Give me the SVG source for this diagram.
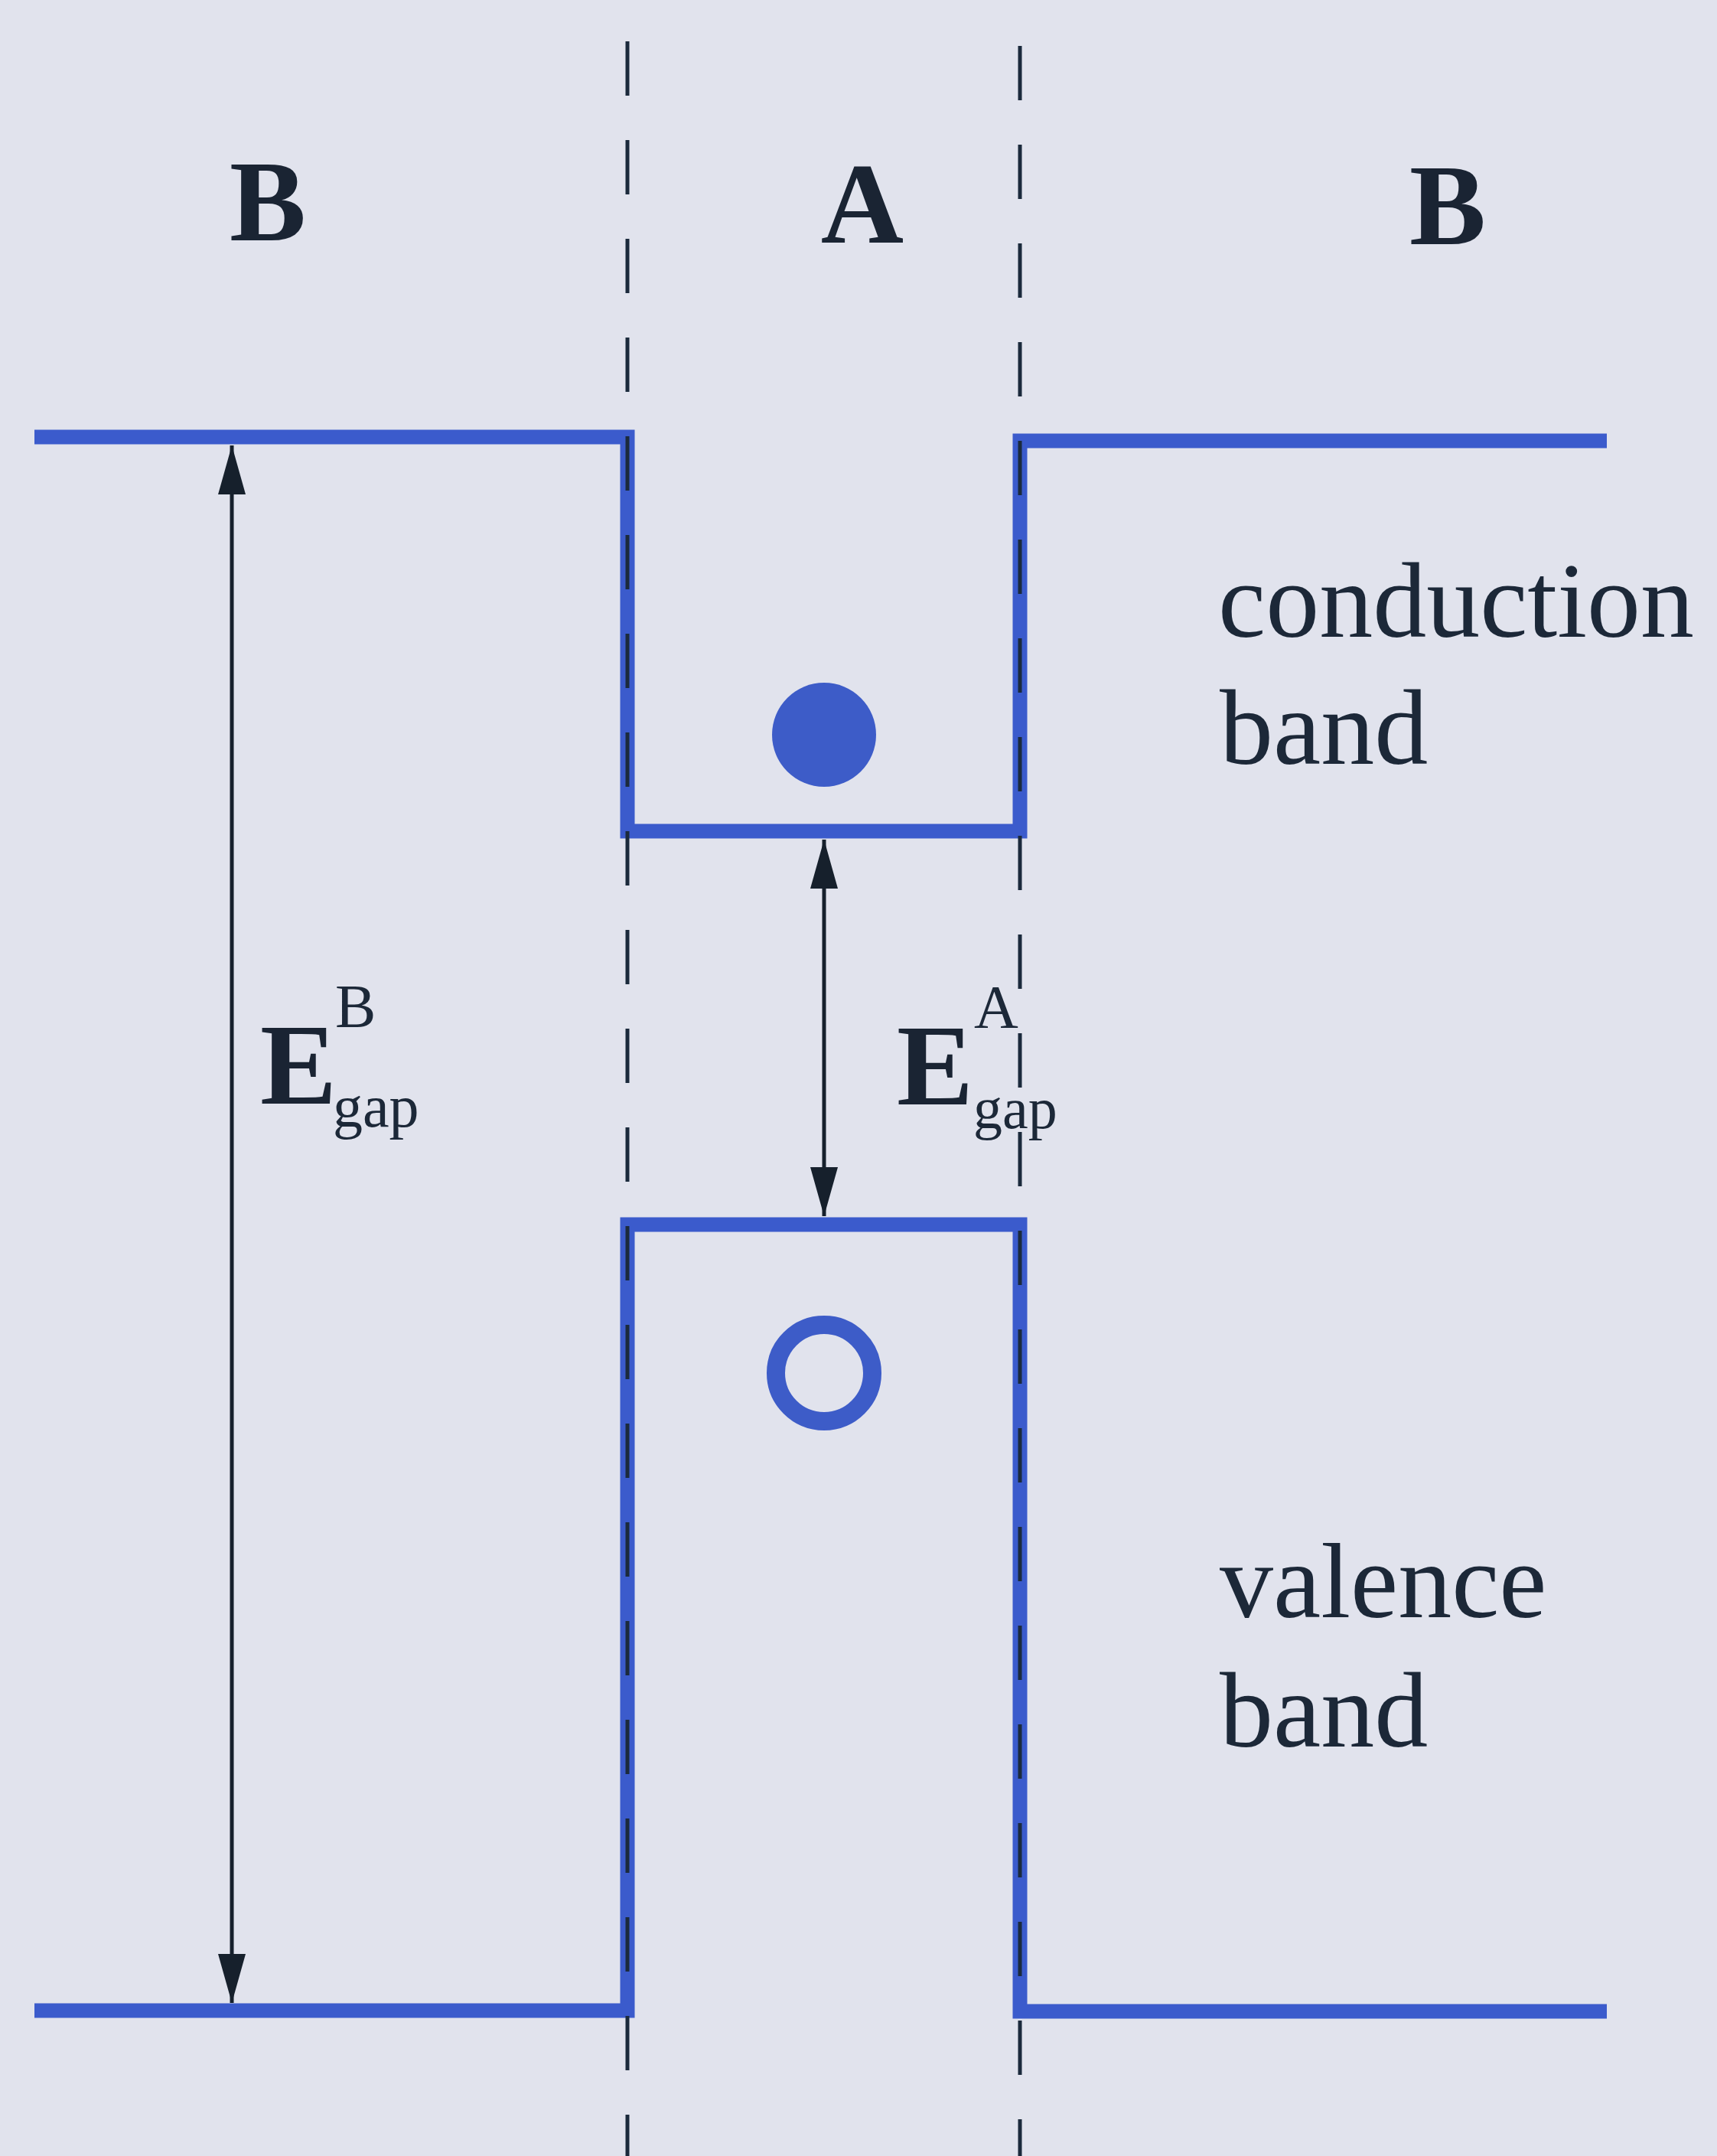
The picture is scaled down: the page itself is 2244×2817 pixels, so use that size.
<svg xmlns="http://www.w3.org/2000/svg" width="2244" height="2817" viewBox="0 0 2244 2817">
<style>
.band{fill:none;stroke:#3b5bcc;stroke-width:19;stroke-linejoin:miter}
.iface{fill:none;stroke:#1b2a3c;stroke-width:5;stroke-dasharray:71 58}
.arrow{fill:none;stroke:#16202c;stroke-width:5}
.big{font-family:"Liberation Serif",serif;font-weight:bold;fill:#1a2433}
.lbl{font-family:"Liberation Serif",serif;fill:#1c2838}
.sub{font-family:"Liberation Serif",serif;fill:#1c2838}
</style>
<defs>
<marker id="ah" viewBox="0 0 64 36" refX="64" refY="18" markerWidth="64" markerHeight="36" markerUnits="userSpaceOnUse" orient="auto-start-reverse">
<path d="M0,0 L64,18 L0,36 z" fill="#16202c"/>
</marker>
</defs>
<rect width="2244" height="2817" fill="#e1e3ed"/>
<g id="conduction-band-edge">
<path class="band" d="M45,571 L820,571 L820,1086 L1333,1086 L1333,576 L2100,576"/>
</g>
<g id="valence-band-edge">
<path class="band" d="M45,2627 L820,2627 L820,1600 L1333,1600 L1333,2628 L2100,2628"/>
</g>
<g id="interfaces">
<line class="iface" x1="820" y1="54" x2="820" y2="2817"/>
<line class="iface" x1="1333" y1="60" x2="1333" y2="2817"/>
</g>
<g id="electron"><circle cx="1077" cy="960" r="68" fill="#3d5cc8"/></g>
<g id="hole"><circle cx="1077" cy="1794" r="63" fill="none" stroke="#3d5cc8" stroke-width="24"/></g>
<g id="region-B-left"><text class="big" x="350" y="314" font-size="150" text-anchor="middle">B</text></g>
<g id="region-A"><text class="big" x="1127" y="317" font-size="150" text-anchor="middle">A</text></g>
<g id="region-B-right"><text class="big" x="1892" y="319" font-size="150" text-anchor="middle">B</text></g>
<g id="label-conduction">
<text class="lbl" x="1592" y="832" font-size="140">conduction</text>
<text class="lbl" x="1594" y="998" font-size="140">band</text>
</g>
<g id="label-valence">
<text class="lbl" x="1594" y="2113" font-size="140">valence</text>
<text class="lbl" x="1594" y="2282" font-size="140">band</text>
</g>
<g id="label-EgapB">
<text class="big" x="340" y="1442" font-size="150">E</text>
<text class="sub" x="438" y="1342" font-size="80">B</text>
<text class="sub" x="435" y="1472" font-size="78">gap</text>
</g>
<g id="label-EgapA">
<text class="big" x="1172" y="1443" font-size="150">E</text>
<text class="sub" x="1273" y="1343" font-size="80">A</text>
<text class="sub" x="1272" y="1474" font-size="76">gap</text>
</g>
<g id="connectors">
<line class="arrow" x1="303" y1="582" x2="303" y2="2617" marker-start="url(#ah)" marker-end="url(#ah)"/>
<line class="arrow" x1="1077" y1="1097" x2="1077" y2="1589" marker-start="url(#ah)" marker-end="url(#ah)"/>
</g>
</svg>
